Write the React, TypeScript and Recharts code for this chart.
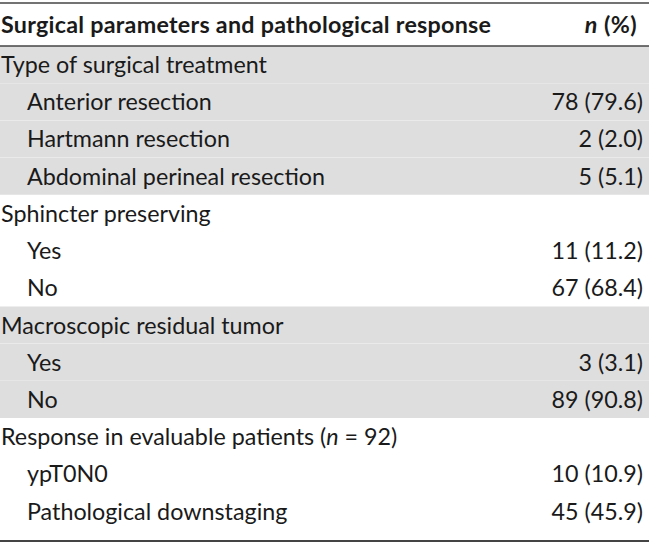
import { BarChart, Bar, XAxis, YAxis, Cell, LabelList } from 'recharts';

const headerLabel = 'Surgical parameters and pathological response';
const headerValue = 'n (%)';

const rowLabels = [
  'Type of surgical treatment',
  'Anterior resection',
  'Hartmann resection',
  'Abdominal perineal resection',
  'Sphincter preserving',
  'Yes',
  'No',
  'Macroscopic residual tumor',
  'Yes',
  'No',
  'Response in evaluable patients (n = 92)',
  'ypT0N0',
  'Pathological downstaging',
];
const rowCounts = [null, 78, 2, 5, null, 11, 67, null, 3, 89, null, 10, 45];
const rowPercents = [null, 79.6, 2.0, 5.1, null, 11.2, 68.4, null, 3.1, 90.8, null, 10.9, 45.9];
const rowGroups = [0, 0, 0, 0, 1, 1, 1, 2, 2, 2, 3, 3, 3];
const shadedGroups = [0, 2];

const FONT = 'Lato, "Open Sans", sans-serif';
const SIZE = 23.3;
const INK = '#1a1a1a';

const rows = rowLabels.map((label, i) => ({
  key: `r${i}`,
  label,
  value: rowCounts[i] == null ? '' : `${rowCounts[i]} (${(rowPercents[i] as number).toFixed(1)})`,
  isGroup: rowCounts[i] == null,
  shaded: shadedGroups.includes(rowGroups[i]),
  span: 1,
}));

// italic "n" like the journal style
function withItalicN(text: string) {
  return text.split(/(\bn\b)/).map((part, i) =>
    part === 'n' ? (
      <tspan key={i} fontStyle="italic">
        n
      </tspan>
    ) : (
      <tspan key={i}>{part}</tspan>
    )
  );
}

function renderRow(props: any) {
  const vb = props.viewBox ?? props;
  const { x, y, width, height } = vb;
  const row = rows[props.index];
  if (!row) return null;
  const cy = y + height / 2;
  return (
    <g>
      <text x={x + (row.isGroup ? 1 : 27)} y={cy} dy="0.36em" fontFamily={FONT} fontSize={SIZE} fill={INK}>
        {withItalicN(row.label)}
      </text>
      {row.value && (
        <text x={x + width - 6} y={cy} dy="0.36em" textAnchor="end" fontFamily={FONT} fontSize={SIZE} fill={INK}>
          {row.value}
        </text>
      )}
    </g>
  );
}

function renderHeader(props: any) {
  const { x, y, width, height } = props.viewBox;
  const cy = y + height / 2;
  return (
    <g>
      <line x1={x} x2={x + width} y1={y} y2={y} stroke="#444" strokeWidth={1.5} />
      <text
        x={x + 1}
        y={cy}
        dy="0.36em"
        fontFamily={FONT}
        fontSize={SIZE}
        fontWeight={700}
        letterSpacing={0.25}
        fill={INK}
      >
        {headerLabel}
      </text>
      <text
        x={x + width - 12}
        y={cy}
        dy="0.36em"
        textAnchor="end"
        fontFamily={FONT}
        fontSize={SIZE}
        fontWeight={700}
        letterSpacing={0.4}
        fill={INK}
      >
        {withItalicN(headerValue)}
      </text>
    </g>
  );
}

export default function App() {
  return (
    <div style={{ position: 'absolute', left: 0, top: 0, background: '#fff' }}>
      <BarChart
        layout="vertical"
        width={649}
        height={544}
        data={rows}
        margin={{ top: 3, right: 0, bottom: 0, left: 0 }}
        barCategoryGap={0}
      >
        <XAxis
          xAxisId="head"
          orientation="top"
          type="number"
          domain={[0, 1]}
          height={43}
          tick={false}
          tickLine={false}
          axisLine={{ stroke: '#444', strokeWidth: 1.5 }}
          label={renderHeader}
        />
        <XAxis
          type="number"
          domain={[0, 1]}
          height={3}
          tick={false}
          tickLine={false}
          axisLine={{ stroke: '#444', strokeWidth: 2 }}
        />
        <YAxis type="category" dataKey="key" hide padding={{ top: 0, bottom: 11 }} />
        <Bar dataKey="span" isAnimationActive={false}>
          {rows.map((r) => (
            <Cell key={r.key} fill={r.shaded ? '#dedede' : 'transparent'} />
          ))}
          <LabelList dataKey="span" content={renderRow} />
        </Bar>
      </BarChart>
    </div>
  );
}
